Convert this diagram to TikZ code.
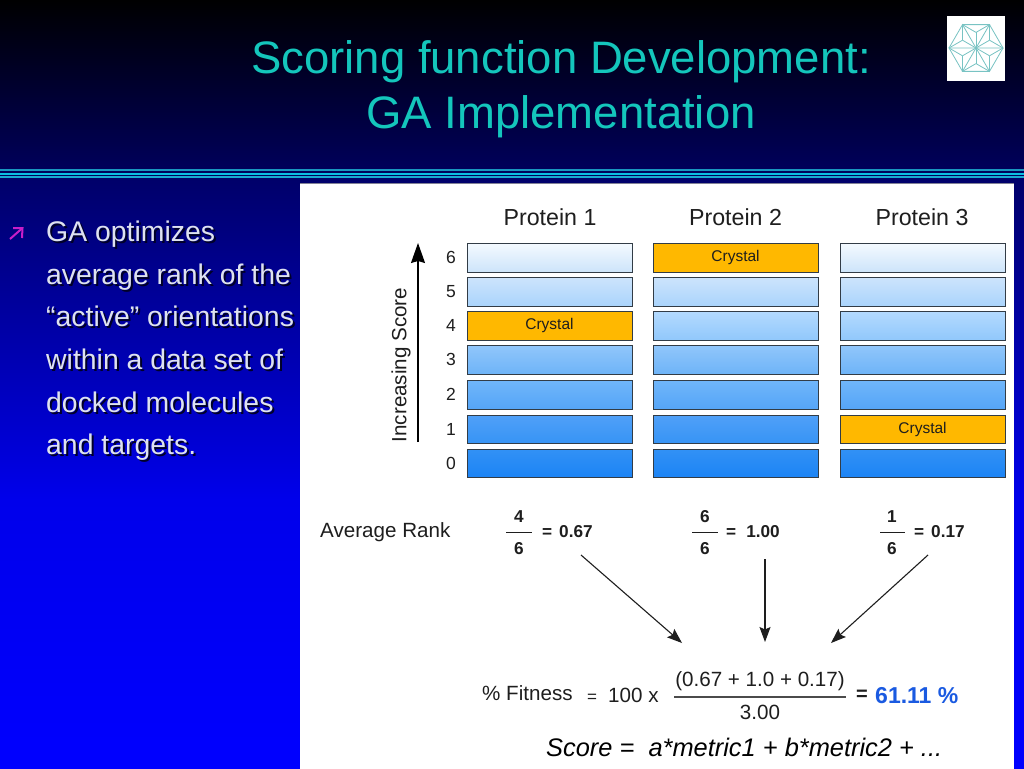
\documentclass[tikz,border=0pt]{standalone}
\usepackage{fontspec}
\setmainfont{Liberation Sans}
\usetikzlibrary{arrows.meta}
\definecolor{titlecol}{RGB}{20,198,188}
\definecolor{bodycol}{RGB}{222,226,240}
\definecolor{crystalcol}{RGB}{255,184,0}
\definecolor{edgecol}{RGB}{50,60,70}
\definecolor{inkcol}{RGB}{30,30,30}
\definecolor{fitcol}{RGB}{26,90,225}
\definecolor{logocol}{RGB}{120,195,195}
\definecolor{bga}{RGB}{0,0,95}
\definecolor{bgb}{RGB}{0,0,105}
\definecolor{bgc}{RGB}{0,0,235}
\definecolor{bgd}{RGB}{0,0,255}
\definecolor{rulea}{RGB}{25,150,190}
\definecolor{ruleb}{RGB}{10,190,225}
\definecolor{rulec}{RGB}{25,170,210}
\definecolor{bulletcol}{RGB}{200,30,200}
\definecolor{shadowcol}{RGB}{0,0,40}
\definecolor{panelrim}{RGB}{130,130,150}
\newcommand{\fsz}[1]{\fontsize{#1}{#1}\selectfont}
\tikzset{
  x=1pt,y=-1pt,
  titletext/.style={anchor=base,text=titlecol,inner sep=0pt,font=\fsz{45.5}},
  bodytext/.style={anchor=base west,text=bodycol,inner sep=0pt,font=\fsz{28.4}},
  bodyshadow/.style={anchor=base west,text=shadowcol,inner sep=0pt,font=\fsz{28.4}},
  head/.style={anchor=base,text=inkcol,inner sep=0pt,font=\fsz{23.2}},
  lbl/.style={anchor=base,text=inkcol,inner sep=0pt,font=\fsz{20.6}},
  num/.style={anchor=base,text=inkcol,inner sep=0pt,font=\fsz{17.5}},
  boldnum/.style={anchor=base,text=inkcol,inner sep=0pt,font=\bfseries\fsz{17.2}},
  fracline/.style={draw=inkcol,line width=1pt},
  bigarrow/.style={draw=inkcol,line width=1.1pt,-{Stealth[length=15pt,width=11pt,inset=2.5pt]}},
  axisarrow/.style={draw=black,line width=1.3pt,-{Stealth[length=20pt,width=14pt,inset=2pt]}},
  bar/.style={draw=edgecol,line width=1pt},
  crystalbar/.style={bar,fill=crystalcol,minimum width=165pt,minimum height=29pt,inner sep=0pt,outer sep=0pt,anchor=north west,text=inkcol,font=\fsz{15.5}}
}
\begin{document}
\begin{tikzpicture}
\useasboundingbox (0,0) rectangle (1024,768);
% background
\fill[top color=black,bottom color=bga] (0,-1) rectangle (1026,178);
\fill[top color=bgb,bottom color=bgc] (0,177) rectangle (1026,500);
\fill[top color=bgc,bottom color=bgd] (0,500) rectangle (1026,770);
% header rule
\fill[rulea] (0,168.5) rectangle (1026,171);
\fill[ruleb] (0,172.5) rectangle (1026,175);
\fill[rulec] (0,176) rectangle (1026,178);
% title
\node[titletext] (t1) at (561,73) {Scoring function Development:};
\node[titletext] (t2) at (561,128) {GA Implementation};
% logo
\fill[white] (947,16) rectangle (1005,81);
\begin{scope}[shift={(976,48)},draw=logocol,line width=0.8pt]
  \foreach \a [evaluate=\a as \b using \a+60] in {0,60,...,300}{
    \draw (\a:27) -- (\b:27) -- (0,0);
    \draw (\a+30:15.6) -- (\a:27);
    \draw (\a+30:15.6) -- (\b:27);
    \draw (\a+30:15.6) -- (0,0);
  }
\end{scope}
% bullet
\draw[bulletcol,line width=2pt] (10,239) -- (22.5,228);
\draw[bulletcol,line width=2pt] (13,228) -- (22.5,228) -- (22,238);
% body text
\foreach \i/\yy/\tx in {a/241/GA optimizes,b/284/average rank of the,c/326.5/“active” orientations,d/369/within a data set of,e/412/docked molecules,f/454.5/and targets.}{
  \node[bodyshadow] (sh\i) at (48,\yy+2) {\tx};
  \node[bodytext] (body\i) at (46,\yy) {\tx};
}
% panel
\fill[white] (300,183) rectangle (1014,770);
\draw[panelrim,line width=0.8pt] (300,183) -- (1014,183);
% protein heads
\node[head] (p1) at (550,225) {Protein 1};
\node[head] (p2) at (735.5,225) {Protein 2};
\node[head] (p3) at (922,225) {Protein 3};
% rows: number, top y, colours
\foreach \n/\yt/\yb/\ct/\cb in {
  6/243/272/{244,250,255}/{205,228,250},
  5/277/306/{205,228,252}/{170,212,252},
  4/311/340/{180,218,254}/{145,200,252},
  3/345/374/{145,198,250}/{110,180,248},
  2/380/409/{112,182,250}/{85,165,248},
  1/415/443/{80,160,248}/{55,148,245},
  0/449/477/{50,145,245}/{28,132,245}}{
  \definecolor{rowtop}{RGB}{\ct}
  \definecolor{rowbot}{RGB}{\cb}
  \node[num] (n\n) at (451,\yt+20) {\n};
  \foreach \xa/\xb in {467/632,653/818,840/1005}{
    \draw[bar,top color=rowtop,bottom color=rowbot] (\xa,\yt) rectangle (\xb,\yb);
  }
}
% crystal bars
\node[crystalbar] (c1) at (467,311) {Crystal};
\node[crystalbar] (c2) at (653,243) {Crystal};
\node[crystalbar,minimum height=28pt] (c3) at (840,415) {Crystal};
% axis
\coordinate (axisbot) at (418,442);
\coordinate (axistop) at (418,243);
\draw[axisarrow] (axisbot) -- (axistop);
\node[lbl,anchor=center,rotate=90] (incr) at (401,365) {Increasing Score};
% average rank
\node[lbl,anchor=base west] (avg) at (320,537) {Average Rank};
\node[boldnum] (f1n) at (519,522) {4};
\node[boldnum] (f1d) at (519,554) {6};
\draw[fracline] (506,532) -- (532,532);
\node[boldnum,anchor=base west] (f1v) at (542,537.5) {=\hspace{7pt}0.67};
\node[boldnum] (f2n) at (705,522) {6};
\node[boldnum] (f2d) at (705,554) {6};
\draw[fracline] (692,532) -- (718,532);
\node[boldnum,anchor=base west] (f2v) at (726,537.5) {=\hspace{10pt}1.00};
\node[boldnum] (f3n) at (892,522) {1};
\node[boldnum] (f3d) at (892,554) {6};
\draw[fracline] (880,532) -- (905,532);
\node[boldnum,anchor=base west] (f3v) at (914,537.5) {=\hspace{7pt}0.17};
% arrows
\coordinate (a1s) at (581,555);
\coordinate (a1e) at (682,643);
\coordinate (a2s) at (765,559);
\coordinate (a2e) at (765,642);
\coordinate (a3s) at (928,555);
\coordinate (a3e) at (831,643);
\draw[bigarrow] (a1s) -- (a1e);
\draw[bigarrow] (a2s) -- (a2e);
\draw[bigarrow] (a3s) -- (a3e);
% fitness
\node[lbl,anchor=base west] (fit) at (482,700) {\% Fitness};
\node[lbl,anchor=base west] (eq) at (587,702) {\fsz{17}=};
\node[lbl,anchor=base west] (hund) at (608,702) {100 x};
\node[lbl,anchor=base] (fnum) at (760,686) {(0.67 + 1.0 + 0.17)};
\draw[draw=inkcol!80,line width=1.2pt] (674,697) -- (846,697);
\node[lbl,anchor=base] (fden) at (760,719) {3.00};
\node[anchor=base west,inner sep=0pt,text=inkcol,font=\bfseries\fsz{20}] (eq2) at (856,700) {=};
\node[anchor=base west,inner sep=0pt,text=fitcol,font=\bfseries\fsz{23}] (res) at (875,703) {61.11 \%};
% score
\node[anchor=base west,inner sep=0pt,text=black,font=\itshape\fsz{25.4}] (score) at (546,756) {Score =\ \ a*metric1 + b*metric2 + ...};
\end{tikzpicture}
\end{document}
